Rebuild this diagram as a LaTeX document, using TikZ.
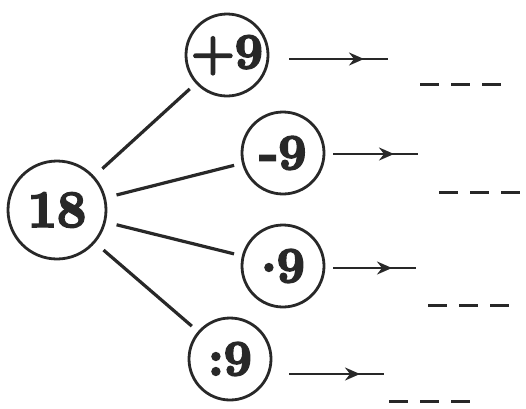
\documentclass[tikz,border=0pt]{standalone}
\usepackage{fontspec}
\setmainfont{Latin Modern Roman}
\newfontfamily\heavyfont{Latin Modern Roman}[UprightFont={*/B},FakeBold=4]
\usepackage{tikz}
\usetikzlibrary{arrows.meta,decorations.markings}
\definecolor{inkgrey}{RGB}{40,40,40}
\tikzset{
  numcircle/.style={circle,draw=inkgrey,line width=2.8pt,minimum size=98pt,
    inner sep=0pt,font=\heavyfont\fontsize{52}{52}\selectfont,text=inkgrey},
  opcircle/.style={circle,draw=inkgrey,line width=2.8pt,minimum size=82pt,
    inner sep=0pt,font=\heavyfont\fontsize{50}{50}\selectfont,text=inkgrey},
  branch/.style={draw=inkgrey,line width=3.2pt,shorten <=11pt,shorten >=8pt},
  answerarrow/.style={draw=inkgrey,line width=2.4pt,
    postaction={decorate},
    decoration={markings,
      mark=at position -24pt with {\arrow{Stealth[length=15pt,width=13pt,inset=5pt]}}}},
  blank/.style={draw=inkgrey,line width=3pt,dash pattern=on 19pt off 12pt}
}
\begin{document}
\begin{tikzpicture}[x=1pt,y=-1pt]
  \useasboundingbox (0,0) rectangle (526,408);
  % centre number and the four operations
  \node[numcircle] (start) at (57,210) {18};
  \node[opcircle] (plus) at (227,55) {+9};
  \node[opcircle] (minus) at (283,153) {-9};
  \node[opcircle] (times) at (283,266) {\raisebox{0.22em}{.}9};
  \node[opcircle] (div) at (230,359) {:9};
  \draw[branch] (start) -- (plus);
  \draw[branch] (start) -- (minus);
  \draw[branch] (start) -- (times);
  \draw[branch] (start) -- (div);
  % arrows to the blanks
  \coordinate (plusA) at (289,59);  \coordinate (plusB) at (388,59);
  \coordinate (minusA) at (333,154); \coordinate (minusB) at (418,154);
  \coordinate (timesA) at (333,268); \coordinate (timesB) at (416,268);
  \coordinate (divA) at (289,374);  \coordinate (divB) at (384,374);
  \draw[answerarrow] (plusA) -- (plusB);
  \draw[answerarrow] (minusA) -- (minusB);
  \draw[answerarrow] (timesA) -- (timesB);
  \draw[answerarrow] (divA) -- (divB);
  % answer blanks
  \coordinate (plusL) at (420,84);  \coordinate (plusR) at (501,84);
  \coordinate (minusL) at (439,192); \coordinate (minusR) at (520,192);
  \coordinate (timesL) at (428,305); \coordinate (timesR) at (509,305);
  \coordinate (divL) at (389,401);  \coordinate (divR) at (470,401);
  \draw[blank] (plusL) -- (plusR);
  \draw[blank] (minusL) -- (minusR);
  \draw[blank] (timesL) -- (timesR);
  \draw[blank] (divL) -- (divR);
\end{tikzpicture}
\end{document}
